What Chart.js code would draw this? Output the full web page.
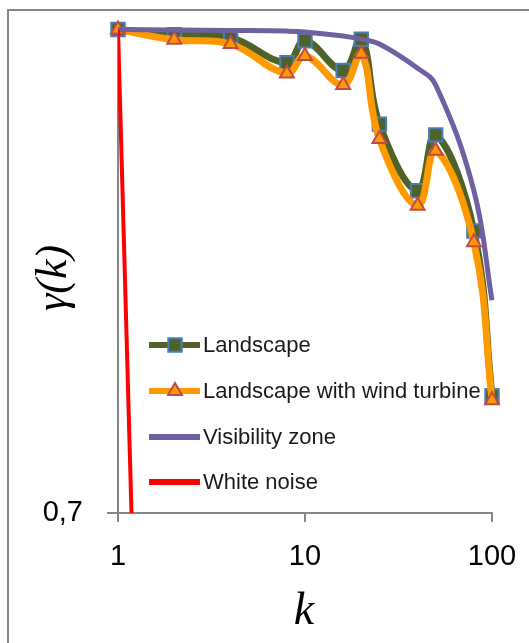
<!DOCTYPE html>
<html>
<head>
<meta charset="utf-8">
<script src="https://cdn.jsdelivr.net/npm/chart.js@4/dist/chart.umd.min.js"></script>
<style>
  html, body { margin: 0; padding: 0; background: #fff; }
  #wrap { width: 529px; height: 643px; position: relative; }
</style>
</head>
<body>
<div id="wrap"><canvas id="chart" width="529" height="643"></canvas></div>
<script>
// lag values k (log axis)
const kValues = [1, 2, 4, 8, 10, 16, 20, 25, 40, 50, 80, 100];
const landscape = [1.0, 0.9967, 0.9949, 0.9794, 0.993, 0.9746, 0.994, 0.9413, 0.900, 0.9346, 0.875, 0.7727];
const windTurbine = [1.0, 0.9936, 0.991, 0.9727, 0.9836, 0.9656, 0.985, 0.932, 0.8907, 0.9248, 0.868, 0.770];
const visibility = [1.0, 0.9997, 0.9994, 0.999, 0.9985, 0.996, 0.994, 0.991, 0.976, 0.9656, 0.90, 0.832];
const noiseK = [1, 2];
const whiteNoise = [1.0, -0.25];
const xTicks = [1, 10, 100];
const yTicks = [0.7];
const seriesNames = ['Landscape', 'Landscape with wind turbine', 'Visibility zone', 'White noise'];

const pts = (xs, ys) => xs.map((x, i) => ({ x, y: ys[i] }));

// keep the plot area where the original has it
const noPad = (s) => {
  s.paddingTop = 0; s.paddingBottom = 0; s.paddingLeft = 0; s.paddingRight = 0;
};

const frame = {
  id: 'frame',
  beforeDraw(chart) {
    const ctx = chart.ctx;
    ctx.save();
    ctx.strokeStyle = '#868686';
    ctx.lineWidth = 2;
    ctx.strokeRect(8, 10, 540, 660);
    ctx.restore();
  },
  afterDraw(chart) {
    const ctx = chart.ctx;
    ctx.save();
    ctx.fillStyle = '#000';
    ctx.textAlign = 'center';
    ctx.textBaseline = 'middle';
    // axis titles
    ctx.font = 'italic 46px "Liberation Serif", serif';
    ctx.fillText('k', 304, 612);
    ctx.translate(54, 278);
    ctx.rotate(-Math.PI / 2);
    ctx.font = 'italic 44px "Liberation Serif", serif';
    ctx.fillText('\u03b3(k)', 0, 0);
    ctx.restore();

    // legend inside plot
    const rows = [345, 391, 437, 482];
    ctx.save();
    chart.data.datasets.forEach((ds, i) => {
      const y = rows[i];
      ctx.strokeStyle = ds.borderColor;
      ctx.lineWidth = 6;
      ctx.lineCap = 'butt';
      ctx.beginPath();
      ctx.moveTo(149, y);
      ctx.lineTo(200, y);
      ctx.stroke();
      if (ds.pointRadius > 0) {
        ctx.fillStyle = ds.pointBackgroundColor;
        ctx.strokeStyle = ds.pointBorderColor;
        ctx.lineWidth = ds.pointBorderWidth;
        Chart.helpers.drawPoint(ctx, {
          pointStyle: ds.pointStyle,
          radius: ds.pointRadius,
          borderWidth: ds.pointBorderWidth,
          rotation: 0
        }, 175, y);
      }
      ctx.fillStyle = '#1a1a1a';
      ctx.font = '22px "Liberation Sans", sans-serif';
      ctx.textAlign = 'left';
      ctx.textBaseline = 'middle';
      ctx.fillText(ds.label, 203, y + 1);
    });
    ctx.restore();
  }
};

new Chart(document.getElementById('chart'), {
  type: 'line',
  data: {
    datasets: [
      {
        label: seriesNames[0],
        data: pts(kValues, landscape),
        borderColor: '#4f6228',
        borderWidth: 7,
        tension: 0.4,
        pointStyle: 'rect',
        pointRadius: 9.5,
        pointBackgroundColor: '#4f6228',
        pointBorderColor: '#4a7ebb',
        pointBorderWidth: 2,
        clip: false,
        order: 4
      },
      {
        label: seriesNames[1],
        data: pts(kValues, windTurbine),
        borderColor: '#ff9900',
        borderWidth: 7,
        tension: 0.4,
        pointStyle: 'triangle',
        pointRadius: 8,
        pointBackgroundColor: '#ff9900',
        pointBorderColor: '#be4b48',
        pointBorderWidth: 2,
        clip: false,
        order: 3
      },
      {
        label: seriesNames[2],
        data: pts(kValues, visibility),
        borderColor: '#7060a0',
        borderWidth: 5,
        tension: 0.4,
        pointRadius: 0,
        clip: false,
        order: 2
      },
      {
        label: seriesNames[3],
        data: pts(noiseK, whiteNoise),
        borderColor: '#ff0000',
        borderWidth: 4,
        tension: 0,
        pointRadius: 0,
        order: 1
      }
    ]
  },
  options: {
    responsive: false,
    animation: false,
    events: [],
    layout: { autoPadding: false, padding: { top: 29.5, right: 37, left: 0, bottom: 0 } },
    plugins: { legend: { display: false }, tooltip: { enabled: false } },
    scales: {
      x: {
        type: 'logarithmic',
        min: 1,
        max: 100,
        afterBuildTicks: (s) => { s.ticks = xTicks.map((v) => ({ value: v })); },
        afterFit: (s) => { s.height = 130; noPad(s); },
        ticks: {
          callback: (v) => String(v),
          color: '#000',
          font: { family: '"Liberation Sans", sans-serif', size: 29 },
          padding: 18,
          maxRotation: 0
        },
        grid: { drawOnChartArea: false, drawTicks: true, tickLength: 9, color: '#868686', lineWidth: 2 },
        border: { display: true, color: '#868686', width: 2 }
      },
      y: {
        type: 'linear',
        min: 0.7,
        max: 1.0,
        afterBuildTicks: (s) => { s.ticks = yTicks.map((v) => ({ value: v })); },
        afterFit: (s) => { s.width = 118; noPad(s); },
        ticks: {
          callback: (v) => String(v).replace('.', ','),
          color: '#000',
          font: { family: '"Liberation Sans", sans-serif', size: 29 },
          padding: 24
        },
        grid: { drawOnChartArea: false, drawTicks: true, tickLength: 11, color: '#868686', lineWidth: 2 },
        border: { display: true, color: '#868686', width: 2 }
      }
    }
  },
  plugins: [frame]
});
</script>
</body>
</html>
